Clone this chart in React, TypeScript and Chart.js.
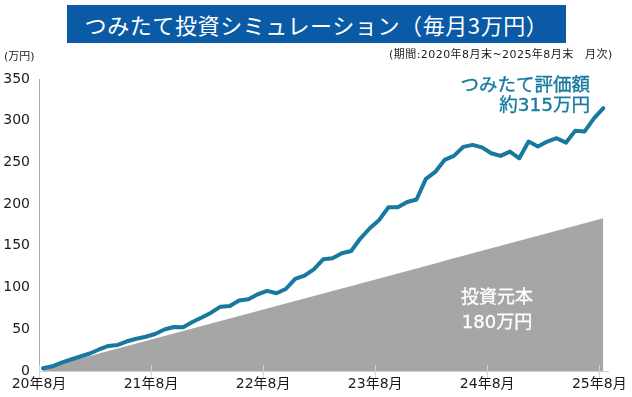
import React, { useEffect, useRef } from 'react';
import { Chart, registerables } from 'chart.js';

Chart.register(...registerables);

// ---- data ----
const tickMonths = [0, 12, 24, 36, 48, 60];
const xTickLabels = ['20年8月', '21年8月', '22年8月', '23年8月', '24年8月', '25年8月'];
const yTickValues = [0, 50, 100, 150, 200, 250, 300, 350];

// つみたて評価額 (万円), monthly, 2020/8 .. 2025/8
const valuation = [
  3.2, 5.6, 10, 13.8, 17.4, 21, 25.8, 30, 31.2, 35.6,
  38.7, 41.1, 44.4, 49.8, 52.8, 52.4, 58.8, 64.1, 69.9, 77.1,
  77.9, 84.5, 86, 92, 96, 93.2, 98.3, 110.3, 114.3, 121.9,
  133.9, 135.1, 141.1, 143.9, 159.1, 171.1, 181.1, 196.3, 196.3, 202.6,
  205.6, 230.2, 238.6, 253, 257.8, 268.6, 271, 268, 261, 257.8,
  263, 255, 275, 269.2, 275, 279, 273.7, 288.1, 287.2, 302.8,
  315,
];

// 投資元本 (万円)
const principal = [
  3, 6, 9, 12, 15, 18, 21, 24, 27, 30,
  33, 36, 39, 42, 45, 48, 51, 54, 57, 60,
  63, 66, 69, 72, 75, 78, 81, 84, 87, 90,
  93, 96, 99, 102, 105, 108, 111, 114, 117, 120,
  123, 126, 129, 132, 135, 138, 141, 144, 147, 150,
  153, 156, 159, 162, 165, 168, 171, 174, 177, 180,
  183,
];

const FONT = "'DejaVu Sans', 'Noto Sans CJK JP', sans-serif";
const JP = "'Noto Sans CJK JP', 'DejaVu Sans', sans-serif";
const LINE_COLOR = '#17799f';
const AREA_COLOR = '#a6a6a6';
const X_SHIFT = -0.43;

const tickMarks = {
  id: 'tickMarks',
  afterDatasetsDraw(chart: any) {
    const { ctx, chartArea } = chart;
    const x = chart.scales.x;
    ctx.save();
    ctx.strokeStyle = '#d2d2d2';
    ctx.lineWidth = 1;
    x.ticks.forEach((t: any) => {
      const px = Math.round(x.getPixelForValue(t.value)) + 0.5;
      ctx.beginPath();
      ctx.moveTo(px, chartArea.bottom - 6);
      ctx.lineTo(px, chartArea.bottom + 7);
      ctx.stroke();
    });
    ctx.restore();
  },
};

export default function App() {
  const canvasRef = useRef<HTMLCanvasElement | null>(null);

  useEffect(() => {
    document.body.style.margin = '0';
    const canvas = canvasRef.current;
    if (!canvas) return;
    const chart = new Chart(canvas, {
      type: 'line',
      data: {
        datasets: [
          {
            label: 'つみたて評価額',
            data: valuation.map((v, i) => ({ x: i, y: v })),
            borderColor: LINE_COLOR,
            borderWidth: 4,
            pointRadius: 0,
            tension: 0,
            fill: false,
            borderJoinStyle: 'round',
            borderCapStyle: 'round',
          },
          {
            label: '投資元本',
            data: principal.map((v, i) => ({ x: i, y: v })),
            borderWidth: 0,
            borderColor: AREA_COLOR,
            backgroundColor: AREA_COLOR,
            pointRadius: 0,
            tension: 0,
            fill: 'origin',
          },
        ],
      },
      options: {
        animation: false,
        responsive: false,
        maintainAspectRatio: false,
        layout: { padding: { top: 79, right: 22, bottom: 0, left: 0 } },
        plugins: {
          legend: { display: false },
          tooltip: { enabled: false },
          title: { display: false },
        },
        scales: {
          x: {
            type: 'linear',
            min: X_SHIFT,
            max: 60.53,
            afterBuildTicks: (scale: any) => {
              scale.ticks = tickMonths.map((m) => ({ value: m + X_SHIFT }));
            },
            afterFit: (scale: any) => {
              scale.height = 26;
            },
            ticks: {
              autoSkip: false,
              maxRotation: 0,
              padding: 5,
              color: '#1a1a1a',
              font: { family: FONT, size: 14 },
              callback: (_v: any, i: number) => xTickLabels[i],
            },
            grid: { drawOnChartArea: false, drawTicks: false },
            border: { color: '#d2d2d2', width: 1 },
          },
          y: {
            min: 0,
            max: 350,
            afterBuildTicks: (scale: any) => {
              scale.ticks = yTickValues.map((v) => ({ value: v }));
            },
            afterFit: (scale: any) => {
              scale.width = 39;
            },
            ticks: {
              padding: 9,
              color: '#1a1a1a',
              font: { family: FONT, size: 14 },
            },
            grid: { drawOnChartArea: false, drawTicks: false },
            border: { color: '#a8a8a8', width: 1 },
          },
        },
      },
      plugins: [tickMarks],
    });
    return () => chart.destroy();
  }, []);

  return (
    <div style={{ position: 'relative', width: 632, height: 397, background: '#fff', overflow: 'hidden' }}>
      <canvas ref={canvasRef} width={632} height={397} style={{ display: 'block', width: 632, height: 397 }} />
      <div
        style={{
          position: 'absolute', left: 67, top: 5, width: 499, height: 38,
          background: '#0b5aa6', color: '#fff', fontFamily: JP, fontSize: 22,
          lineHeight: '38px', textAlign: 'center', whiteSpace: 'nowrap', letterSpacing: '0.6px',
        }}
      >
        つみたて投資シミュレーション（毎月3万円）
      </div>
      <div
        style={{
          position: 'absolute', left: 389, top: 48, fontFamily: FONT, fontSize: 11,
          lineHeight: '14px', color: '#1a1a1a', whiteSpace: 'nowrap', letterSpacing: '0.45px',
        }}
      >
        (期間:2020年8月末~2025年8月末　月次)
      </div>
      <div
        style={{
          position: 'absolute', left: 4, top: 50, fontFamily: FONT, fontSize: 11,
          lineHeight: '14px', color: '#1a1a1a', whiteSpace: 'nowrap',
        }}
      >
        (万円)
      </div>
      <div
        style={{
          position: 'absolute', right: 42, top: 75, fontFamily: FONT, fontSize: 18.5,
          lineHeight: '20px', color: LINE_COLOR, textAlign: 'right', whiteSpace: 'nowrap',
          WebkitTextStroke: `0.35px ${LINE_COLOR}`,
        }}
      >
        <div>つみたて評価額</div>
        <div>約315万円</div>
      </div>
      <div
        style={{
          position: 'absolute', left: 447, top: 284, width: 100, fontFamily: FONT, fontSize: 18,
          lineHeight: '25px', color: '#fff', textAlign: 'center', whiteSpace: 'nowrap',
          WebkitTextStroke: '0.3px #fff',
        }}
      >
        <div>投資元本</div>
        <div>180万円</div>
      </div>
    </div>
  );
}
